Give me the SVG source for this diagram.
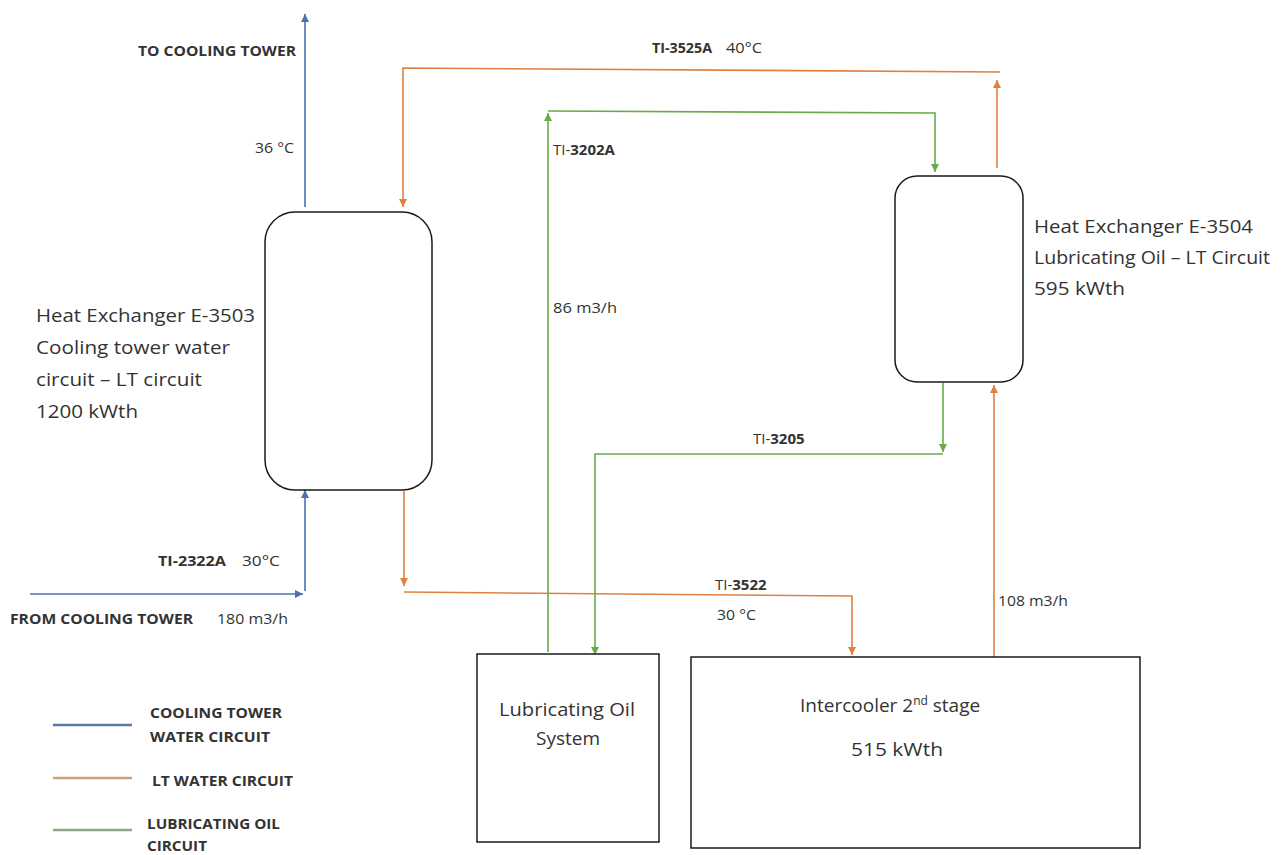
<svg xmlns="http://www.w3.org/2000/svg" width="1283" height="855" viewBox="0 0 1283 855">
<style>
text{font-family:"Open Sans","Liberation Sans",sans-serif;fill:#333}
.big{font-size:19px}
.sm{font-size:15px}
.b{font-weight:bold}
.node{fill:#fff;stroke:#1a1a1a;stroke-width:1.5}
.blue{fill:none;stroke:#4a72b0;stroke-width:1.6}
.orange{fill:none;stroke:#e08040;stroke-width:1.6}
.green{fill:none;stroke:#6aaa48;stroke-width:1.6}
</style>
<defs>
<marker id="aB" viewBox="0 0 10 10" refX="10" refY="5" markerWidth="8" markerHeight="8" markerUnits="userSpaceOnUse" orient="auto"><path d="M0,0L10,5L0,10z" fill="#4a72b0"/></marker>
<marker id="aO" viewBox="0 0 10 10" refX="10" refY="5" markerWidth="8" markerHeight="8" markerUnits="userSpaceOnUse" orient="auto"><path d="M0,0L10,5L0,10z" fill="#e08040"/></marker>
<marker id="aG" viewBox="0 0 10 10" refX="10" refY="5" markerWidth="8" markerHeight="8" markerUnits="userSpaceOnUse" orient="auto"><path d="M0,0L10,5L0,10z" fill="#6aaa48"/></marker>
</defs>
<rect width="1283" height="855" fill="#fff"/>
<g id="connectors">
<path class="blue" d="M305,207V14" marker-end="url(#aB)"/>
<path class="blue" d="M30,594H303" marker-end="url(#aB)"/>
<path class="blue" d="M305,591V490" marker-end="url(#aB)"/>
<path class="orange" d="M997,168V80" marker-end="url(#aO)"/>
<path class="orange" d="M1000,72L403,68V207" marker-end="url(#aO)"/>
<path class="orange" d="M404,491V586" marker-end="url(#aO)"/>
<path class="orange" d="M404,592L852,596V655" marker-end="url(#aO)"/>
<path class="orange" d="M994,657V385" marker-end="url(#aO)"/>
<path class="green" d="M548,652V113" marker-end="url(#aG)"/>
<path class="green" d="M548,111L935,113V172" marker-end="url(#aG)"/>
<path class="green" d="M943,383V452" marker-end="url(#aG)"/>
<path class="green" d="M943,454H595V655" marker-end="url(#aG)"/>
</g>
<g id="hx-e3503">
<rect class="node" x="265" y="212" width="167" height="278" rx="30"/>
<text class="big" x="36" y="322" textLength="219" lengthAdjust="spacingAndGlyphs">Heat Exchanger E-3503</text>
<text class="big" x="36" y="354" textLength="194" lengthAdjust="spacingAndGlyphs">Cooling tower water</text>
<text class="big" x="36" y="386" textLength="166" lengthAdjust="spacingAndGlyphs">circuit – LT circuit</text>
<text class="big" x="36" y="418" textLength="102" lengthAdjust="spacingAndGlyphs">1200 kWth</text>
</g>
<g id="hx-e3504">
<rect class="node" x="895" y="176" width="128" height="206" rx="22"/>
<text class="big" x="1034" y="233" textLength="219" lengthAdjust="spacingAndGlyphs">Heat Exchanger E-3504</text>
<text class="big" x="1034" y="264" textLength="236" lengthAdjust="spacingAndGlyphs">Lubricating Oil – LT Circuit</text>
<text class="big" x="1034" y="295" textLength="91" lengthAdjust="spacingAndGlyphs">595 kWth</text>
</g>
<g id="lub-oil-system">
<rect class="node" x="477" y="654" width="182" height="188"/>
<text class="big" x="499" y="716" textLength="136" lengthAdjust="spacingAndGlyphs">Lubricating Oil</text>
<text class="big" x="568" y="745" text-anchor="middle">System</text>
</g>
<g id="intercooler">
<rect class="node" x="691" y="657" width="449" height="191"/>
<text class="big" x="800" y="712">Intercooler 2<tspan font-size="12" dy="-7">nd</tspan><tspan dy="7"> stage</tspan></text>
<text class="big" x="851" y="756" textLength="92" lengthAdjust="spacingAndGlyphs">515 kWth</text>
</g>
<g id="labels">
<text class="sm b" x="138" y="56" textLength="158" lengthAdjust="spacingAndGlyphs">TO COOLING TOWER</text>
<text class="sm" x="255" y="153" textLength="39" lengthAdjust="spacingAndGlyphs">36 °C</text>
<text class="sm b" x="652" y="53" textLength="60" lengthAdjust="spacingAndGlyphs">TI-3525A</text>
<text class="sm" x="726" y="53" textLength="36" lengthAdjust="spacingAndGlyphs">40°C</text>
<text class="sm" x="553" y="155">TI-<tspan class="b">3202A</tspan></text>
<text class="sm" x="553" y="313" textLength="64" lengthAdjust="spacingAndGlyphs">86 m3/h</text>
<text class="sm" x="753" y="444">TI-<tspan class="b">3205</tspan></text>
<text class="sm b" x="158" y="566" textLength="68" lengthAdjust="spacingAndGlyphs">TI-2322A</text>
<text class="sm" x="242" y="566" textLength="38" lengthAdjust="spacingAndGlyphs">30°C</text>
<text class="sm b" x="10" y="624" textLength="183" lengthAdjust="spacingAndGlyphs">FROM COOLING TOWER</text>
<text class="sm" x="217" y="624" textLength="71" lengthAdjust="spacingAndGlyphs">180 m3/h</text>
<text class="sm" x="715" y="590">TI-<tspan class="b">3522</tspan></text>
<text class="sm" x="717" y="620" textLength="39" lengthAdjust="spacingAndGlyphs">30 °C</text>
<text class="sm" x="998" y="606" textLength="70" lengthAdjust="spacingAndGlyphs">108 m3/h</text>
</g>
<g id="legend">
<line x1="53" y1="725" x2="132" y2="725" stroke="#5b79a8" stroke-width="2.5"/>
<line x1="53" y1="778" x2="132" y2="778" stroke="#c9a27f" stroke-width="2.5"/>
<line x1="53" y1="830" x2="132" y2="830" stroke="#8ba585" stroke-width="2.5"/>
<text class="sm b" x="150" y="718" textLength="132" lengthAdjust="spacingAndGlyphs">COOLING TOWER</text>
<text class="sm b" x="150" y="742" textLength="120" lengthAdjust="spacingAndGlyphs">WATER CIRCUIT</text>
<text class="sm b" x="152" y="786" textLength="141" lengthAdjust="spacingAndGlyphs">LT WATER CIRCUIT</text>
<text class="sm b" x="147" y="829" textLength="133" lengthAdjust="spacingAndGlyphs">LUBRICATING OIL</text>
<text class="sm b" x="147" y="851" textLength="60" lengthAdjust="spacingAndGlyphs">CIRCUIT</text>
</g>
</svg>
